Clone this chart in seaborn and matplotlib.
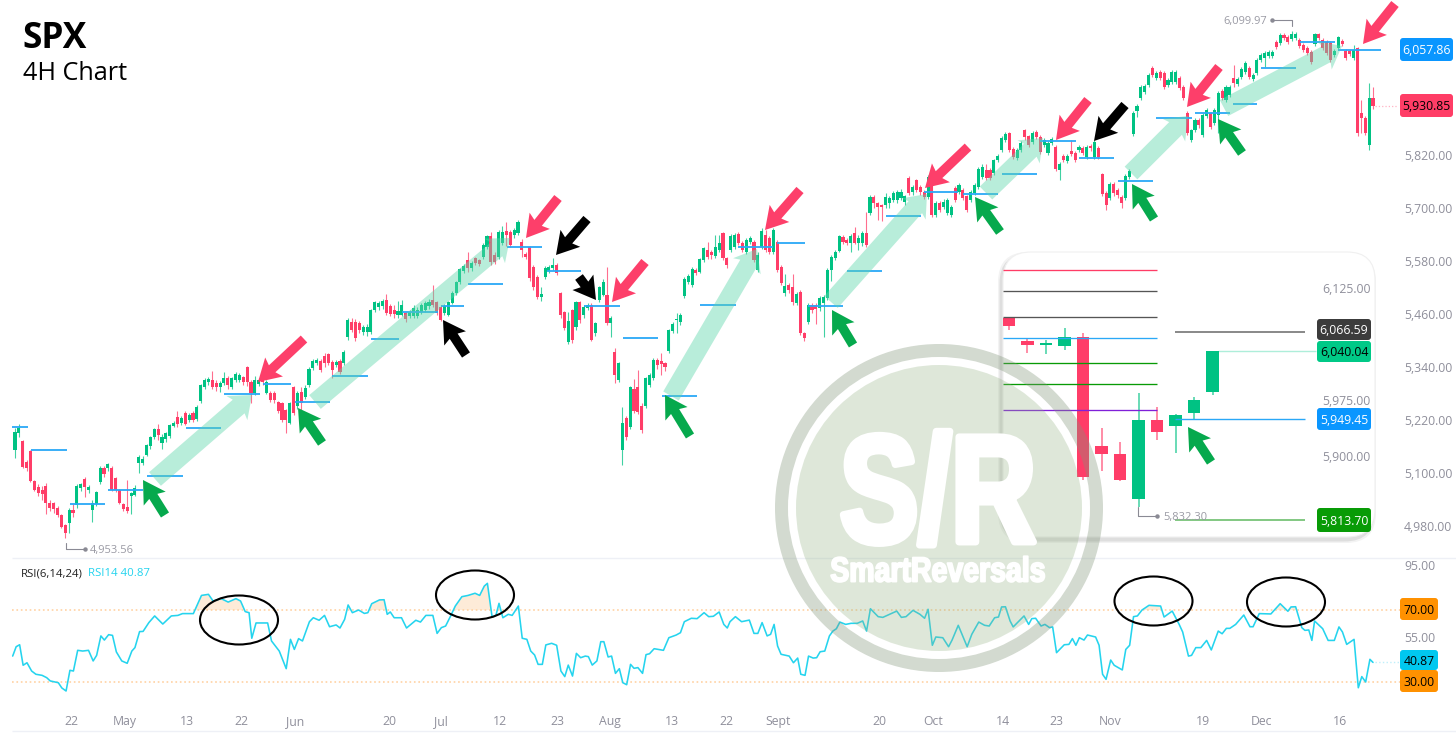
import numpy as np
import pandas as pd
import matplotlib
matplotlib.use("Agg")
import matplotlib.pyplot as plt
import seaborn as sns
from matplotlib.patches import FancyArrow, FancyBboxPatch, Circle, Ellipse, Wedge
from matplotlib.transforms import Affine2D
from matplotlib import patheffects as pe

# ---- 4H candles ----
opens = [
    5152,5191,5173,5125,5150,5082,5068,5062,5071,5032,
    5032,5021,5005,4982,4987,5016,5028,5066,5086,5062,
    5016,5030,5080,5112,5111,5111,5088,5062,5030,5023,
    5048,5050,5123,5123,5141,5161,5182,5200,5168,5177,
    5184,5207,5227,5213,5236,5220,5236,5222,5263,5295,
    5306,5311,5304,5295,5304,5315,5295,5311,5311,5317,
    5340,5306,5281,5302,5317,5281,5281,5281,5261,5258,
    5243,5213,5295,5252,5283,5272,5299,5338,5349,5354,
    5366,5370,5352,5345,5354,5349,5408,5442,5442,5440,
    5419,5419,5419,5469,5476,5478,5492,5478,5469,5458,
    5458,5462,5456,5456,5456,5465,5469,5478,5492,5487,
    5476,5462,5458,5485,5508,5532,5557,5582,5564,5587,
    5582,5589,5612,5637,5594,5589,5621,5648,5646,5640,
    5643,5623,5596,5612,5567,5544,5499,5544,5557,5564,
    5571,5508,5465,5396,5469,5431,5487,5458,5474,5480,
    5417,5492,5503,5503,5440,5374,5311,5152,5225,5204,
    5290,5295,5252,5252,5299,5315,5356,5354,5349,5376,
    5422,5447,5442,5501,5532,5526,5560,5555,5582,5605,
    5600,5591,5605,5643,5587,5605,5612,5641,5621,5601,
    5623,5623,5560,5612,5639,5632,5601,5623,5567,5508,
    5526,5521,5485,5510,5417,5442,5480,5480,5474,5485,
    5496,5560,5587,5603,5634,5628,5621,5643,5621,5621,
    5643,5689,5725,5711,5707,5707,5711,5718,5718,5723,
    5714,5768,5736,5763,5748,5736,5725,5759,5684,5711,
    5702,5689,5684,5745,5736,5741,5727,5718,5734,5748,
    5770,5786,5786,5779,5809,5831,5854,5870,5834,5813,
    5831,5877,5863,5850,5872,5861,5843,5825,5847,5838,
    5786,5818,5807,5829,5825,5831,5836,5816,5840,5816,
    5836,5777,5734,5723,5754,5741,5725,5723,5770,5868,
    5920,5949,5963,5979,6017,5994,6008,6006,5979,5985,
    5985,5994,5974,5915,5854,5877,5899,5865,5908,5915,
    5893,5911,5965,5945,5956,5994,5981,5997,6008,6017,
    5992,6006,6035,6040,6044,6044,6076,6074,6092,6087,
    6083,6085,6080,6069,6062,6053,6071,6094,6080,6076,
    6074,6046,6062,6078,6056,6056,6040,6062,5915,5904,
    5843,5949,
]
closes = [
    5193,5202,5114,5111,5082,5062,5055,5052,5032,5021,
    5019,5005,4978,4964,5016,5009,5071,5075,5068,5068,
    5032,5057,5112,5098,5120,5062,5062,5033,5019,5014,
    5055,5066,5136,5132,5163,5182,5200,5186,5181,5190,
    5209,5213,5211,5225,5211,5231,5220,5250,5299,5311,
    5313,5295,5295,5304,5315,5299,5315,5324,5322,5306,
    5306,5281,5311,5311,5306,5306,5265,5265,5240,5220,
    5220,5258,5236,5281,5258,5293,5336,5354,5356,5333,
    5349,5349,5333,5352,5329,5374,5446,5424,5406,5424,
    5431,5431,5469,5487,5485,5490,5462,5460,5460,5467,
    5480,5449,5465,5474,5469,5480,5485,5487,5480,5462,
    5446,5478,5487,5508,5532,5562,5569,5564,5575,5575,
    5573,5616,5637,5578,5578,5646,5646,5640,5616,5650,
    5668,5605,5590,5542,5522,5499,5505,5564,5566,5571,
    5553,5458,5428,5445,5401,5487,5446,5476,5480,5401,
    5440,5521,5533,5440,5451,5322,5349,5213,5182,5295,
    5240,5238,5198,5315,5322,5356,5345,5347,5340,5424,
    5438,5449,5458,5539,5546,5562,5553,5585,5609,5589,
    5594,5612,5621,5587,5571,5637,5639,5621,5605,5628,
    5632,5582,5594,5648,5605,5601,5650,5560,5530,5524,
    5514,5487,5505,5417,5406,5480,5469,5471,5496,5499,
    5560,5589,5600,5637,5623,5621,5637,5621,5632,5643,
    5616,5725,5711,5702,5702,5725,5723,5734,5736,5736,
    5727,5734,5748,5741,5736,5725,5770,5684,5711,5695,
    5714,5718,5702,5718,5752,5723,5696,5736,5752,5788,
    5793,5768,5768,5809,5818,5859,5868,5831,5816,5831,
    5847,5861,5843,5870,5861,5827,5854,5847,5856,5788,
    5800,5809,5818,5822,5809,5838,5825,5838,5836,5850,
    5816,5732,5707,5754,5734,5730,5711,5773,5784,5915,
    5931,5974,5976,6001,6001,6006,5994,5974,5990,6008,
    6008,5972,5949,5870,5877,5899,5888,5911,5922,5884,
    5922,5960,5949,5974,5974,5983,5992,6015,6028,5997,
    6001,6035,6046,6051,6053,6053,6065,6092,6085,6076,
    6094,6094,6067,6058,6051,6031,6094,6085,6062,6051,
    6035,6055,6087,6071,6040,6049,6058,5870,5904,5870,
    5949,5931,
]
highs = [
    5202,5211,5175,5130,5152,5084,5075,5070,5078,5040,
    5035,5025,5008,4985,5020,5030,5075,5078,5090,5072,
    5040,5060,5115,5115,5122,5115,5092,5065,5032,5085,
    5058,5072,5140,5138,5165,5185,5203,5210,5189,5194,
    5212,5218,5240,5230,5240,5236,5240,5255,5302,5315,
    5318,5332,5310,5308,5328,5320,5318,5328,5326,5320,
    5342,5310,5320,5315,5335,5311,5285,5285,5263,5262,
    5246,5262,5298,5285,5295,5300,5340,5358,5360,5358,
    5372,5372,5356,5356,5358,5378,5450,5450,5448,5445,
    5435,5437,5472,5490,5490,5495,5505,5482,5480,5490,
    5492,5465,5470,5480,5475,5484,5490,5495,5526,5490,
    5480,5482,5490,5512,5535,5565,5574,5600,5580,5590,
    5585,5620,5640,5645,5600,5650,5660,5668,5650,5654,
    5672,5630,5600,5615,5570,5548,5522,5568,5570,5587,
    5575,5510,5468,5465,5472,5490,5490,5480,5485,5485,
    5443,5524,5540,5567,5455,5383,5352,5250,5230,5298,
    5314,5333,5258,5318,5326,5360,5361,5372,5352,5427,
    5442,5462,5462,5543,5550,5566,5564,5588,5612,5623,
    5605,5640,5640,5645,5590,5641,5643,5645,5625,5632,
    5636,5627,5600,5655,5650,5636,5655,5627,5570,5550,
    5530,5550,5510,5514,5420,5484,5484,5484,5500,5503,
    5564,5593,5604,5640,5638,5632,5641,5657,5640,5647,
    5691,5729,5730,5714,5710,5735,5727,5738,5740,5742,
    5730,5772,5752,5766,5752,5740,5775,5764,5715,5715,
    5720,5722,5706,5750,5756,5746,5730,5740,5756,5792,
    5800,5800,5790,5812,5822,5862,5872,5873,5838,5835,
    5851,5880,5866,5875,5876,5865,5858,5851,5860,5842,
    5804,5822,5822,5854,5830,5842,5840,5842,5846,5854,
    5840,5780,5738,5758,5758,5745,5730,5777,5788,5919,
    5935,5978,5980,6005,6021,6010,6012,6010,5995,6012,
    6012,5998,5978,5920,5880,5903,5903,5915,5926,5918,
    5926,5964,5970,5978,5978,6024,5996,6019,6032,6022,
    6005,6039,6050,6055,6058,6057,6080,6096,6096,6092,
    6100,6098,6084,6073,6066,6057,6096,6097,6084,6080,
    6078,6060,6090,6082,6060,6060,6068,6065,5945,5908,
    5983,5975,
]
lows = [
    5134,5182,5111,5105,5080,5060,5048,5040,5008,5015,
    5010,5000,4975,4953,4965,5000,5022,5060,5046,5055,
    4990,5025,5075,5092,5105,5060,5058,5030,5015,5010,
    5008,5048,5100,5118,5138,5155,5178,5176,5155,5170,
    5180,5204,5205,5208,5208,5215,5215,5218,5258,5290,
    5300,5290,5285,5283,5300,5290,5290,5306,5306,5300,
    5298,5258,5276,5298,5300,5278,5260,5258,5235,5215,
    5190,5210,5232,5245,5235,5268,5295,5334,5345,5328,
    5340,5345,5316,5340,5325,5345,5402,5420,5400,5418,
    5412,5410,5415,5465,5470,5472,5458,5455,5452,5452,
    5455,5442,5450,5450,5450,5460,5465,5472,5475,5458,
    5444,5458,5455,5482,5504,5528,5552,5556,5558,5570,
    5568,5585,5608,5572,5574,5585,5616,5615,5612,5632,
    5640,5590,5585,5535,5515,5495,5490,5540,5552,5560,
    5548,5452,5424,5392,5395,5425,5440,5452,5470,5398,
    5410,5488,5500,5436,5408,5304,5306,5118,5175,5200,
    5235,5234,5190,5248,5294,5310,5335,5322,5332,5372,
    5418,5417,5436,5497,5528,5522,5548,5552,5578,5585,
    5585,5588,5600,5583,5565,5600,5608,5616,5600,5596,
    5618,5578,5555,5608,5600,5595,5595,5555,5525,5500,
    5508,5480,5480,5413,5400,5438,5462,5438,5468,5408,
    5492,5534,5582,5600,5618,5616,5600,5618,5606,5615,
    5612,5685,5700,5673,5670,5700,5700,5714,5712,5718,
    5708,5730,5730,5736,5730,5720,5720,5680,5680,5690,
    5698,5684,5680,5714,5732,5718,5692,5714,5730,5744,
    5765,5764,5764,5775,5804,5827,5850,5827,5812,5808,
    5826,5855,5838,5846,5856,5822,5838,5820,5842,5784,
    5763,5804,5802,5818,5804,5826,5820,5812,5830,5812,
    5812,5728,5695,5718,5728,5722,5700,5718,5765,5864,
    5905,5945,5958,5975,5996,5990,5989,5970,5974,5980,
    5980,5968,5945,5866,5850,5873,5882,5860,5903,5880,
    5888,5870,5945,5940,5952,5975,5976,5992,6004,5992,
    5987,6002,6030,6020,6040,6040,6060,6070,6080,6072,
    6078,6080,6062,6054,6046,6027,6066,6080,6058,6046,
    6031,6042,6058,6066,6036,6044,6036,5864,5870,5866,
    5832,5925,
]

# pivot levels: start candle, end candle, price
level_start = [-0.8,4.1,14.2,24.0,34.1,44.2,54.0,64.1,72.4,81.9,92.0,100.0,110.1,117.1,127.2,137.5,147.1,157.1,167.2,
               177.0,186.9,196.9,205.0,215.0,225.1,234.9,245.0,255.1,264.9,275.0,285.1,294.9,305.0,314.8,322.0,332.1,341.9]
level_end = [3.4,13.4,23.3,33.1,43.4,53.2,63.3,71.3,81.4,91.2,99.3,109.3,116.1,126.1,136.2,146.3,156.4,166.2,176.3,
             186.4,195.9,204.2,214.0,224.1,234.2,243.7,254.1,264.2,274.2,284.1,294.1,304.2,314.0,321.0,331.1,341.2,353.1]
level_price = [5204,5152,5030,5062,5093,5202,5279,5302,5261,5320,5403,5465,5478,5528,5612,5557,5478,5406,5274,
               5480,5612,5621,5478,5557,5682,5736,5732,5777,5852,5813,5761,5904,5915,5936,6017,6076,6057.86]

price_ticks = [4980,5100,5220,5340,5460,5580,5700,5820]

# ---- RSI(14) ----
rsi_pos = [
    -0.6,0.3,1.2,2.1,3.1,4.3,5.4,7.0,8.2,9.1,11.2,12.1,13.2,14.2,15.1,16.2,17.5,19.0,20.2,21.1,
    22.2,23.1,24.2,25.2,26.2,27.6,29.0,30.2,31.0,32.2,33.1,34.6,36.1,38.2,40.4,42.1,43.3,46.1,48.2,50.0,
    51.2,53.3,55.1,57.1,58.3,59.5,60.5,61.2,62.3,65.3,66.3,68.3,70.1,71.2,72.2,73.3,74.3,76.1,77.1,78.6,
    80.0,81.3,83.0,84.0,85.2,86.1,87.2,88.8,90.3,91.2,92.2,94.2,95.4,96.2,97.0,98.0,99.9,101.2,103.6,104.8,
    106.2,108.0,109.1,110.2,111.3,112.6,113.8,115.5,117.1,118.9,120.1,121.3,122.1,123.3,124.3,125.1,126.1,127.5,128.5,130.1,
    131.1,132.3,133.3,134.3,135.2,136.3,137.2,138.7,140.0,141.1,142.1,143.0,144.1,145.1,146.2,147.4,148.2,149.2,150.4,151.4,
    152.2,153.3,154.2,155.2,156.2,157.1,158.1,159.1,160.0,161.0,162.2,163.1,164.0,165.2,167.6,169.0,170.9,172.0,173.0,174.8,
    176.3,178.1,179.3,180.5,182.0,183.2,184.1,184.8,186.2,187.8,189.8,191.0,192.0,193.1,194.4,195.3,196.2,197.1,198.0,200.1,
    201.2,202.3,203.1,204.2,205.1,206.3,207.2,208.1,209.3,210.5,211.4,212.3,213.2,214.7,216.1,217.7,219.1,220.1,221.1,223.1,
    224.3,227.9,229.1,230.3,232.1,233.9,235.1,236.0,237.1,238.0,239.8,241.3,242.2,243.8,246.1,247.3,249.1,250.6,251.8,253.2,
    254.2,255.0,256.0,257.2,258.0,260.8,262.0,262.8,263.8,265.2,266.2,267.4,268.2,269.2,271.2,272.4,273.3,274.2,275.1,276.3,
    277.2,279.3,280.2,281.1,282.0,283.2,284.1,286.2,287.1,288.1,289.1,290.1,291.3,293.1,296.1,297.0,299.1,300.9,301.8,303.3,
    304.1,305.2,306.5,308.0,309.2,311.0,312.0,313.1,314.0,315.5,317.6,319.2,320.0,321.6,324.6,327.0,329.0,329.8,331.0,332.6,
    333.4,334.4,335.2,335.9,338.0,339.4,341.0,342.2,343.1,344.2,346.1,347.2,348.1,349.1,350.2,351.0,
]
rsi_vals = [
    44.4,49.6,50.7,39.3,40.7,36.1,34.3,33.7,32.4,30.6,29.6,26.7,25.0,36.5,36.1,47.6,47.2,47.6,41.7,44.8,
    55.6,53.3,56.3,55.9,46.7,41.7,40.4,47.2,49.1,58.0,58.1,63.0,66.7,62.2,66.7,67.0,68.0,68.0,78.1,78.7,
    75.0,76.3,74.4,76.3,75.0,69.1,68.5,54.3,62.8,62.8,52.8,47.2,37.4,53.7,48.1,54.1,52.8,63.5,65.7,64.3,
    67.0,60.7,61.7,60.0,64.8,72.8,68.5,70.0,68.1,68.5,73.5,75.6,75.7,67.6,68.9,65.7,65.7,60.0,64.3,63.3,
    67.0,67.0,57.0,60.2,61.1,66.7,72.2,77.4,78.1,79.3,78.1,83.3,84.8,66.3,67.0,73.7,65.7,67.6,67.0,72.2,
    54.3,53.7,47.2,45.0,39.8,39.8,50.6,51.5,50.4,36.1,33.0,39.4,33.3,45.9,43.5,44.4,44.1,39.4,41.7,52.4,
    52.4,43.9,44.4,34.8,37.4,29.6,28.5,39.8,37.6,38.0,34.8,45.2,45.7,48.5,47.6,54.6,56.1,57.4,63.5,65.4,
    65.2,68.5,66.3,66.5,68.9,62.0,60.0,63.5,66.3,63.5,64.4,57.0,57.0,63.0,55.6,56.5,62.0,50.0,45.4,44.4,
    40.7,43.3,34.3,33.7,44.4,43.3,43.5,46.8,47.2,55.6,58.3,59.6,63.3,62.0,62.6,62.6,63.9,58.3,70.7,66.3,
    65.9,69.4,65.9,66.3,69.8,67.6,65.4,70.4,50.4,55.0,54.6,49.6,53.3,61.5,49.6,56.5,63.3,61.5,61.1,65.7,
    66.1,71.7,71.8,63.9,60.6,66.7,62.0,65.2,65.4,61.1,62.0,60.2,60.6,46.3,50.7,50.9,54.1,50.4,54.6,53.3,
    56.1,55.0,50.4,34.3,31.5,42.2,39.3,36.7,48.1,50.4,66.3,66.7,70.0,72.6,72.2,66.1,69.4,62.0,57.8,44.4,
    44.8,49.1,49.1,53.1,47.8,58.3,56.8,59.8,59.8,62.0,67.2,60.7,60.7,68.0,67.8,73.5,69.3,71.7,71.8,60.2,
    58.7,58.9,53.1,63.9,59.6,53.1,53.1,60.6,57.8,50.9,53.7,26.8,33.0,30.0,42.6,40.87,
]
rsi_ticks = [55, 95]

date_pos = [14.5,28.4,44.5,58.4,72.4,96.7,110.1,125.4,140.3,153.8,169.8,183.8,197.2,223.3,237.3,255.4,269.1,283,307,322.3,342.5]
date_labels = ["22","May","13","22","Jun","20","Jul","12","23","Aug","13","22","Sept","20","Oct","14","23","Nov","19","Dec","16"]

# ---- zoomed candles in the card ----
zoom_opens = [6084.5,6054.1,6048.8,6047.9,6059.9,5914.0,5903.2,5843.0,5948.3,5940.7,5958.2,5985.4]
zoom_closes = [6074.7,6048.8,6051.9,6059.9,5872.4,5903.2,5868.0,5948.3,5931.8,5955.5,5975.1,6040.04]
zoom_highs = [6084.5,6057.7,6055.5,6072.0,6065.3,5937.2,5919.3,5984.0,5966.2,5956.0,5979.6,6040.04]
zoom_lows = [6068.9,6037.6,6036.3,6042.0,5868.0,5880.0,5867.0,5832.3,5921.5,5903.7,5948.3,5982.0]
zoom_left_levels = [6149.1,6121.0,6086.2,6058.0,6024.6,5996.4,5961.6]
zoom_left_colors = ["#ff3d66","#555555","#555555","#2aa8f7","#089b06","#089b06","#8020d8"]
zoom_ticks = [5900,5975,6125]

UP = "#00c283"
DOWN = "#ff3d68"
GREY = "#8f8f9b"
LEVEL = "#2aa8f7"
W, H = 1456, 734
LABEL_SIZE = 8.8

sns.set_theme(style="white")
plt.rcParams['font.family'] = ['Open Sans', 'DejaVu Sans']

fig = plt.figure(figsize=(W / 100, H / 100), dpi=100, facecolor="white")


def px_axes(x0, y0, x1, y1, zorder):
    a = fig.add_axes([x0 / W, 1 - y1 / H, (x1 - x0) / W, (y1 - y0) / H], zorder=zorder)
    a.patch.set_visible(False)
    for s in a.spines.values():
        s.set_visible(False)
    return a


def candles(a, xs, o, c, h, l, width, wick):
    o, c = np.array(o), np.array(c)
    colors = np.where(c >= o, UP, DOWN)
    a.vlines(xs, l, h, colors=colors, lw=wick, alpha=0.75, zorder=2)
    a.bar(xs, np.abs(c - o), bottom=np.minimum(o, c), width=width, color=colors, lw=0, zorder=3)


# the logo lettering is condensed, no installed font is: squeeze the glyphs while keeping them as text
class Squeeze(pe.AbstractPathEffect):
    def __init__(self, sx, cx_px, stroke):
        super().__init__()
        self.sx, self.cx, self.stroke = sx, cx_px, stroke

    def draw_path(self, renderer, gc, tpath, affine, rgbFace):
        squeezed = affine + Affine2D().translate(-self.cx, 0).scale(self.sx, 1).translate(self.cx, 0)
        gc0 = renderer.new_gc()
        gc0.copy_properties(gc)
        gc0.set_linewidth(self.stroke)
        gc0.set_foreground("white")
        renderer.draw_path(gc0, tpath, squeezed, rgbFace)
        gc0.restore()


# ---- price panel ----
ax = px_axes(0, 0, W, 557, 1)
idx = np.arange(len(closes))
candles(ax, idx, opens, closes, highs, lows, 0.8, 0.8)
ax.hlines(level_price, level_start, level_end, colors=LEVEL, lw=1.3, zorder=4)
ax.hlines(closes[-1], idx[-1] + 0.5, 357.5, colors="#ffb3c4", lw=0.9, ls=":", zorder=1)
ax.set_xlim(-3.877, 372.45)
ax.set_ylim(4910, 6171)
ax.set_xticks([])
ax.set_yticks(price_ticks)
ax.set_yticklabels([f"{t:,.2f}" for t in price_ticks])
ax.yaxis.tick_right()
ax.tick_params(axis="y", length=0, pad=-37.4, labelsize=LABEL_SIZE, labelcolor=GREY)

# ---- RSI panel ----
rsi_df = pd.DataFrame({"pos": rsi_pos, "rsi": rsi_vals})
rx = px_axes(0, 559, W, 708, 1)
rx.fill_between(rsi_df["pos"], rsi_df["rsi"], 70, where=rsi_df["rsi"] >= 70, interpolate=True,
                color="#fdebd8", lw=0, zorder=1)
rx.hlines([70, 30], -0.8, 358.5, colors="#ffd2a3", lw=1.2, ls=":", zorder=1)
sns.lineplot(data=rsi_df, x="pos", y="rsi", ax=rx, color="#25d4ee", lw=1.15, sort=False, estimator=None, zorder=3)
rx.hlines(rsi_vals[-1], 351.5, 358.5, colors="#bfeffa", lw=1.0, ls=":", zorder=1)
rx.set_xlim(-3.877, 372.45)
rx.set_ylim(15.56, 98.33)
rx.set_xlabel("")
rx.set_ylabel("")
rx.set_xticks(date_pos)
rx.set_xticklabels(date_labels)
rx.tick_params(axis="x", length=0, pad=5, labelsize=LABEL_SIZE, labelcolor=GREY)
rx.set_yticks(rsi_ticks)
rx.set_yticklabels([f"{t:.2f}" for t in rsi_ticks])
rx.yaxis.tick_right()
rx.tick_params(axis="y", length=0, pad=-37.4, labelsize=LABEL_SIZE, labelcolor=GREY)

# ---- annotations layer, pixel coordinates ----
deco = px_axes(0, 0, W, H, 2)
deco.set_xlim(0, W)
deco.set_ylim(H, 0)
deco.set_xticks([])
deco.set_yticks([])


def arrow(a, x0, y0, x1, y1, color, width=9.5, hw=26, hl=22, alpha=1.0):
    a.add_patch(FancyArrow(x0, y0, x1 - x0, y1 - y0, width=width, head_width=hw, head_length=hl,
                           length_includes_head=True, overhang=0.12, fc=color, ec="none", lw=0, alpha=alpha))


def badge(a, x0, x1, y0, y1, fc, label, tc):
    a.add_patch(FancyBboxPatch((x0 + 2, y0 + 2), x1 - x0 - 4, y1 - y0 - 4, boxstyle="round,pad=2,rounding_size=3",
                               fc=fc, ec="none", lw=0))
    a.text((x0 + x1) / 2, (y0 + y1) / 2, label, color=tc, fontsize=LABEL_SIZE, ha="center", va="center_baseline")


def callout(a, corner_x, corner_y, end_y, dot_x, label, text_x, ha, size=8.0):
    a.plot([corner_x, corner_x, dot_x], [corner_y, end_y, end_y], color="#8a8a94", lw=0.8)
    a.plot([dot_x], [end_y], "o", ms=2.2, color="#8a8a94")
    a.text(text_x, end_y, label, color="#9a9aa4", fontsize=size, ha=ha, va="center_baseline")


for s in [(155,479,252,395),(315,402,510,238),(671,396,757,249),(831,302,927,194),
          (986,193,1043,138),(1131,173,1188,116),(1224,108,1342,46)]:
    arrow(deco, *s, "#5fd6ab", width=18, hw=32, hl=20, alpha=0.44)
for s in [(304,339,258,382),(558,198,526,238),(645,262,612,302),(800,190,765,230),
          (968,147,925,188),(1088,100,1056,140),(1219,67,1187,107),(1395,4,1363,44)]:
    arrow(deco, *s, "#fd3f6a")
for s in [(466,355,443,320),(587,219,556,255),(579,277,596,300),(1125,105,1094,141)]:
    arrow(deco, *s, "black")
for s in [(165,515,143,480),(322,443,298,408),(690,436,665,395),(853,345,832,310),
          (1000,232,975,197),(1154,219,1132,184),(1242,153,1218,119)]:
    arrow(deco, *s, "#06a94d")

for cx, cy in [(239, 620), (475, 595), (1153.5, 601), (1286, 602)]:
    deco.add_patch(Ellipse((cx, cy), 78, 49, fc="none", ec="black", lw=1.5))

deco.text(22, 34, "SPX", fontsize=25.5, fontweight="bold", color="black", va="center_baseline")
deco.text(23, 71, "4H Chart", fontsize=18.2, color="black", va="center_baseline")
deco.text(21, 572, "RSI(6,14,24)", fontsize=8.2, color="#222222", va="center_baseline")
deco.text(88, 572, "RSI14 40.87", fontsize=8.2, color="#22d3ee", va="center_baseline")
deco.hlines([558, 731], 12, W, colors="#eef0f6", lw=1)

callout(deco, 66, 543, 549, 85, "4,953.56", 90, "left")
callout(deco, 1292, 26, 20, 1272, "6,099.97", 1267, "right")

badge(deco, 1400, 1453, 38, 61, "#0a96ff", "6,057.86", "white")
badge(deco, 1400, 1453, 94, 117, "#ff3d66", "5,930.85", "black")
badge(deco, 1400, 1438, 598, 620, "#ff9100", "70.00", "black")
badge(deco, 1400, 1438, 650, 670, "#00c8f0", "40.87", "black")
badge(deco, 1400, 1438, 670, 692, "#ff9100", "30.00", "black")

# card with soft shadow, heavier on the left and bottom
for grow, alpha in [(3, 0.07), (1.5, 0.13)]:
    deco.add_patch(FancyBboxPatch((1003 - grow - 2, 252 - grow + 3), 372 + 2 * grow, 285 + 2 * grow,
                                  boxstyle="round,pad=0,rounding_size=30", fc="#555555", ec="none", lw=0, alpha=alpha))
deco.add_patch(FancyBboxPatch((1003, 252), 372, 285, boxstyle="round,pad=0,rounding_size=28",
                              fc="white", ec="#f0f0f0", lw=0.8))

# ---- card content ----
card = px_axes(1003, 252, 1375, 537, 3)
zoom_idx = np.arange(len(zoom_closes))
candles(card, zoom_idx, zoom_opens, zoom_closes, zoom_highs, zoom_lows, 0.66, 1.1)
card.hlines(zoom_left_levels, -0.32, 8.0, colors=zoom_left_colors, lw=0.95, zorder=4)
card.hlines(6066.59, 8.97, 16.0, colors="#888888", lw=1.4, zorder=4)
card.hlines(6040.04, 11.3, 16.6, colors="#aeeeda", lw=1.0, zorder=1)
card.hlines(5949.45, 8.97, 16.0, colors=LEVEL, lw=1.0, zorder=4)
card.hlines(5813.70, 8.97, 16.0, colors="#6dbf6d", lw=1.2, zorder=4)
card.set_xlim(-0.324, 19.78)
card.set_ylim(5791.5, 6173.2)
card.set_xticks([])
card.set_yticks(zoom_ticks)
card.set_yticklabels([f"{t:,.2f}" for t in zoom_ticks])
card.yaxis.tick_right()
card.tick_params(axis="y", length=0, pad=-38, labelsize=LABEL_SIZE, labelcolor=GREY)

# ---- top layer: card badges, watermark ----
top = px_axes(0, 0, W, H, 4)
top.set_xlim(0, W)
top.set_ylim(H, 0)
top.set_xticks([])
top.set_yticks([])
callout(top, 1138, 507, 516, 1157, "5,832.30", 1163, "left")
badge(top, 1317, 1371, 319, 340, "#3c3c3c", "6,066.59", "white")
badge(top, 1317, 1371, 341, 362, "#00c987", "6,040.04", "black")
badge(top, 1317, 1371, 408, 430, "#0a96ff", "5,949.45", "white")
badge(top, 1317, 1371, 508, 532, "#089b06", "5,813.70", "white")
arrow(top, 1211, 462, 1188, 427, "#06a94d")

top.add_patch(Wedge((939, 508), 164, 0, 360, width=13, fc="#819579", ec="none", lw=0, alpha=0.35))
top.add_patch(Circle((939, 508), 143, fc="#94b284", ec="none", lw=0, alpha=0.30))
top.text(938, 503, "S/R", family="Liberation Sans", fontweight="bold", fontsize=110, color="white",
         ha="center", va="center", path_effects=[Squeeze(0.77, 938, 5)])
top.text(938, 572, "SmartReversals", family="Liberation Sans", fontweight="bold", fontsize=25, color="white",
         ha="center", va="center", path_effects=[Squeeze(0.82, 938, 1.4)])

fig.savefig("out.png", dpi=100)
